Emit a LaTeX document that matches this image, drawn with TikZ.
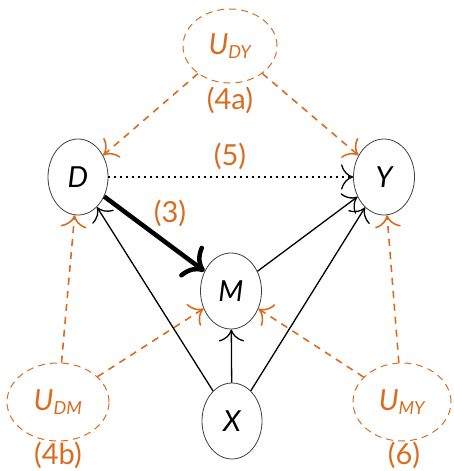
\documentclass[tikz,border=0pt]{standalone}
\usepackage{fontspec}
\setmainfont{Lato}
\usetikzlibrary{shapes.geometric,arrows.meta}
\definecolor{uorange}{RGB}{217,108,30}
\newcommand{\usub}[1]{\textsubscript{\fontsize{18}{20}\selectfont #1}}
\begin{document}
\begin{tikzpicture}[x=1pt,y=-1pt,
  var/.style={ellipse,draw=black!75,line width=0.8pt,fill=white,inner sep=0pt,font=\fontsize{29}{32}\selectfont\itshape},
  uvar/.style={ellipse,draw=uorange,dash pattern=on 7pt off 5pt,line width=1pt,inner sep=0pt,text=uorange,font=\fontsize{29}{32}\selectfont\itshape},
  cause/.style={draw=black,line width=1.3pt,-{Computer Modern Rightarrow[scale=2.7]}},
  conf/.style={draw=uorange,line width=1.6pt,dash pattern=on 7pt off 6pt,-{Computer Modern Rightarrow[scale=2.4]}},
  lab/.style={text=uorange,font=\fontsize{29}{32}\selectfont}]
\useasboundingbox (0,0) rectangle (454,471);
\node[var,minimum width=60pt,minimum height=76pt] (D) at (78,177) {D};
\node[var,minimum width=61pt,minimum height=76pt] (Y) at (384,177) {Y};
\node[var,minimum width=61pt,minimum height=76pt] (M) at (231,291) {M};
\node[var,minimum width=60pt,minimum height=76pt] (X) at (232,421) {X};
\node[uvar,minimum width=94pt,minimum height=74pt] (UDY) at (230,46) {U\usub{DY}};
\node[uvar,minimum width=102pt,minimum height=78pt] (UDM) at (58,402) {U\usub{DM}};
\node[uvar,minimum width=98pt,minimum height=78pt] (UMY) at (402,402) {U\usub{MY}};
\node[lab] (l4a) at (230,100) {(4a)};
\node[lab] (l4b) at (58,455) {(4b)};
\node[lab] (l6) at (404,455) {(6)};
\node[lab] (l5) at (230,156) {(5)};
\node[lab] (l3) at (170,213) {(3)};
\draw[conf] (UDY) -- (D);
\draw[conf] (UDY) -- (Y);
\draw[conf] (UDM) -- (D);
\draw[conf] (UDM) -- (M);
\draw[conf] (UMY) -- (M);
\draw[conf] (UMY) -- (Y);
\draw[cause] (X) -- (D);
\draw[cause] (X) -- (M);
\draw[cause] (X) -- (Y);
\draw[cause] (M) -- (Y);
\draw[cause,dash pattern=on 1.5pt off 4.5pt] (D) -- (Y);
\draw[draw=black,line width=4.5pt,-{Computer Modern Rightarrow[scale=1.6]}] (D) -- (M);
\end{tikzpicture}
\end{document}
